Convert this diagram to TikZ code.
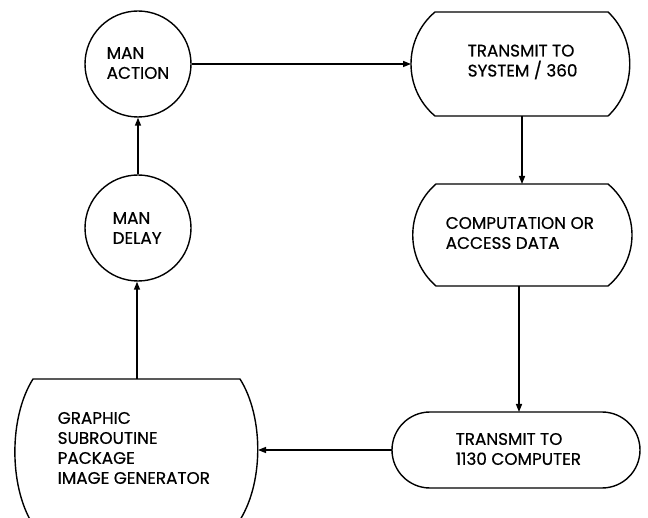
\documentclass[tikz,border=0pt]{standalone}
\usepackage{fontspec}
\setmainfont{Poppins}
\newfontfamily\lblfont{Poppins}[FakeBold=0.6]
\usetikzlibrary{arrows.meta}
\begin{document}
\begin{tikzpicture}[x=1pt,y=-1pt,line width=1.4pt,
  conn/.style={-{Triangle[length=8pt,width=6pt]}},
  lbl/.style={font=\lblfont\fontsize{16.8}{20}\selectfont,align=left,inner sep=0pt},
  outline/.style={draw,line width=1.4pt,line join=round}]
\useasboundingbox (0,0) rectangle (648,518);
% circles
\node[circle,outline,minimum size=106pt] (action) at (138,64) {};
\node[lbl,anchor=west] (actiontxt) at (106,63) {MAN\\ACTION};
\node[circle,outline,minimum size=106pt] (delay) at (138,228) {};
\node[lbl,anchor=west] (delaytxt) at (112,228) {MAN\\DELAY};
% transmit to system/360
\draw[outline] (435,12) -- (608,12) .. controls (637,39) and (637,89) .. (608,116)
  -- (435,116) .. controls (403,89) and (403,39) .. (435,12) -- cycle;
\node[lbl,anchor=west] (t360) at (467,62) {TRANSMIT TO\\SYSTEM / 360};
\coordinate (t360w) at (411,64);
\coordinate (t360s) at (522,116);
% computation
\draw[outline] (436,184) -- (608,184) .. controls (640,211) and (640,259) .. (608,286)
  -- (436,286) .. controls (405,259) and (405,211) .. (436,184) -- cycle;
\node[lbl,anchor=west] (comp) at (445,233) {COMPUTATION OR\\ACCESS DATA};
\coordinate (compn) at (522,184);
\coordinate (comps) at (519,286);
% transmit to 1130
\draw[outline,rounded corners=38pt] (392,412) rectangle (640,488);
\node[lbl,anchor=west] (t1130) at (455,449) {TRANSMIT TO\\1130 COMPUTER};
\coordinate (t1130n) at (519,412);
\coordinate (t1130w) at (392,450);
% graphic subroutine package
\draw[outline] (32,523) .. controls (9,485) and (9,417) .. (33,379) -- (240,379)
  .. controls (264,417) and (264,485) .. (238,523);
\node[lbl,anchor=west] (gsp) at (57,448) {GRAPHIC\\SUBROUTINE\\PACKAGE\\IMAGE GENERATOR};
\coordinate (gspe) at (258,450);
\coordinate (gspn) at (137,379);
% connectors
\draw[conn] (action.east |- t360w) -- (t360w);
\draw[conn] (t360s) -- (compn);
\draw[conn] (comps) -- (t1130n);
\draw[conn] (t1130w) -- (gspe);
\draw[conn] (gspn) -- (gspn |- delay.south);
\draw[conn] (delay.north) -- (action.south);
\end{tikzpicture}
\end{document}
